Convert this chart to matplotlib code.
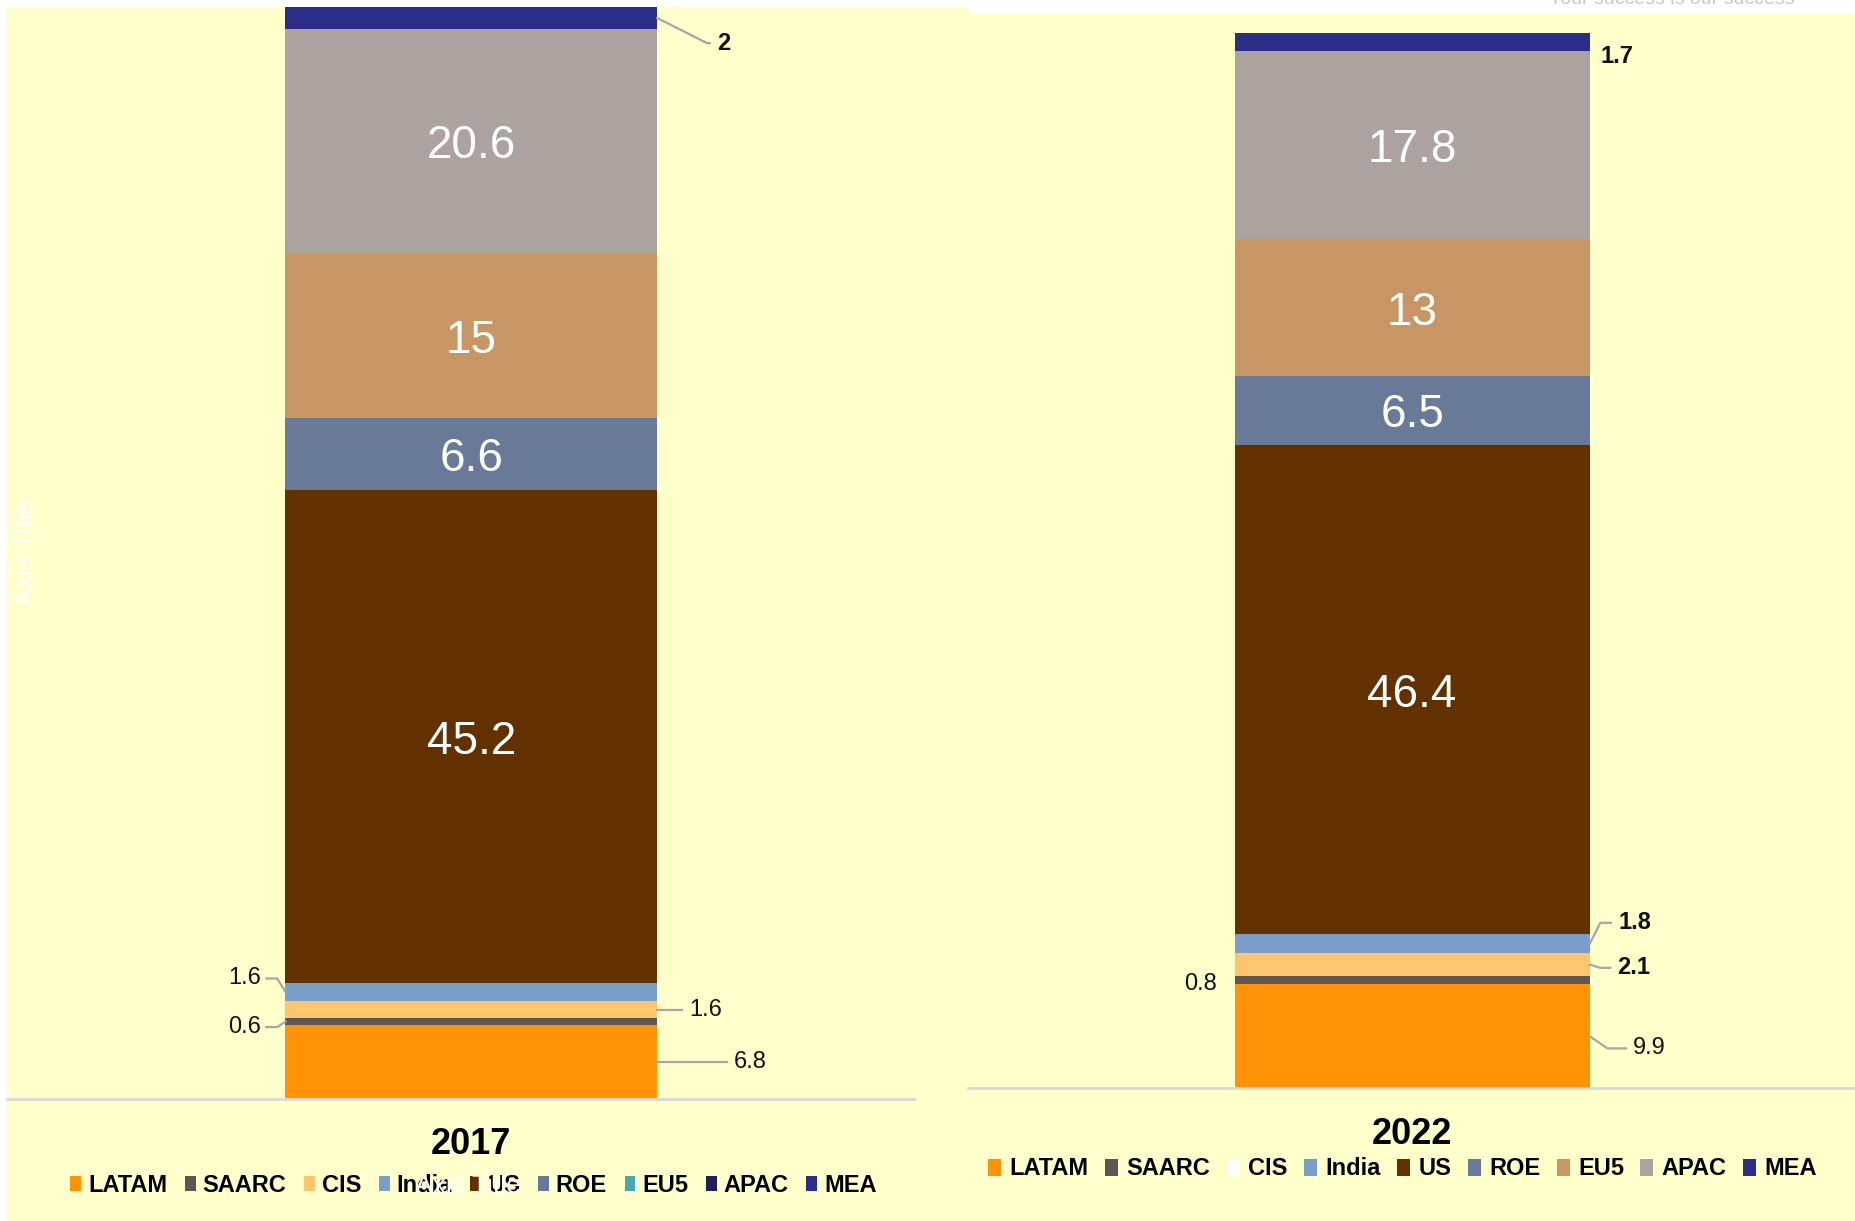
import matplotlib.pyplot as plt
from matplotlib.patches import Patch, Rectangle

plt.rcParams['font.family'] = ['Liberation Sans', 'DejaVu Sans']

# market share by region, %
regions = ['LATAM', 'SAARC', 'CIS', 'India', 'US', 'ROE', 'EU5', 'APAC', 'MEA']
share_2017 = [6.8, 0.6, 1.6, 1.6, 45.2, 6.6, 15, 20.6, 2]
share_2022 = [9.9, 0.8, 2.1, 1.8, 46.4, 6.5, 13, 17.8, 1.7]

bar_colors = ['#FF9305', '#5F5555', '#FDC66E', '#7A9EC8', '#633000',
              '#687A98', '#C89664', '#ACA3A0', '#2B2D88']
legend_colors_2017 = ['#FF9305', '#5F5555', '#FDC66E', '#7A9EC8', '#633000',
                      '#687A98', '#47AAAF', '#1E1E5A', '#2B2D88']
legend_colors_2022 = ['#FF9305', '#5F5555', '#FFFFFF', '#7A9EC8', '#633000',
                      '#687A98', '#C89664', '#ACA3A0', '#2B2D88']

BG = '#FFFFCC'
LEADER = '#A6A6A6'
W, H = 1568, 1032


def rect(x0, y0, x1, y1):
    return [x0 / W, 1 - y1 / H, (x1 - x0) / W, (y1 - y0) / H]


fig = plt.figure(figsize=(18.56, 12.21), dpi=100, facecolor='white')
fig.patches.append(Rectangle((6 / W, 0), 812 / W, 1 - 6 / H, transform=fig.transFigure,
                             color=BG, zorder=-5))
fig.patches.append(Rectangle((790 / W, 0), 778 / W, 1 - 12 / H, transform=fig.transFigure,
                             color=BG, zorder=-5))
fig.text(1309 / W, 1.0, 'Your success is our success', color='#c8c8c8',
         fontsize=14, va='center', ha='left')


def stacked(ax, values, xc, width, outside):
    ax.set_facecolor('none')
    bottom = 0
    centers = []
    for v, c in zip(values, bar_colors):
        ax.bar(xc, v, width, bottom=bottom, color=c, linewidth=0)
        centers.append(bottom + v / 2)
        bottom += v
    ax.set_xlim(0, 1)
    ax.set_ylim(0, 100)
    ax.set_xticks([])
    ax.set_yticks([])
    for s in ['top', 'left', 'right']:
        ax.spines[s].set_visible(False)
    ax.spines['bottom'].set_color('#D9D9D9')
    ax.spines['bottom'].set_linewidth(2)

    # values without an outside callout sit inside their segment
    called_out = {o[0] for o in outside}
    for i, (v, yc) in enumerate(zip(values, centers)):
        if i not in called_out:
            ax.text(xc, yc, f'{v:g}', color='white', fontsize=33,
                    ha='center', va='center_baseline')

    left_edge, right_edge = xc - width / 2, xc + width / 2
    for idx, tx, ty, elbow, ha, bold, leader in outside:
        v = values[idx]
        weight = 'bold' if bold else 'normal'
        ax.text(tx, ty, f'{v:g}', fontsize=17, ha=ha, va='center',
                fontweight=weight, color='#111111', clip_on=False)
        if not leader:
            continue
        edge = right_edge if ha == 'left' else left_edge
        end = tx - 0.008 if ha == 'left' else tx + 0.006
        xs, ys = [edge], [centers[idx]]
        if elbow is not None:
            xs.append(elbow)
            ys.append(ty)
        xs.append(end)
        ys.append(ty)
        ax.plot(xs, ys, color=LEADER, lw=1.6, clip_on=False)


ax1 = fig.add_axes(rect(6, 6, 772, 929))
stacked(ax1, share_2017, 0.512, 0.41, [
    (8, 0.783, 96.7, 0.772, 'left', True, True),
    (3, 0.280, 11.05, 0.298, 'right', False, True),
    (1, 0.280, 6.6, 0.298, 'right', False, True),
    (2, 0.752, 8.2, None, 'left', False, True),
    (0, 0.8016, 3.4, None, 'left', False, True),
])

ax2 = fig.add_axes(rect(818, 28, 1568, 920))
stacked(ax2, share_2022, 0.5, 0.4, [
    (8, 0.712, 97.8, None, 'left', True, False),
    (3, 0.732, 15.7, 0.712, 'left', True, True),
    (2, 0.731, 11.43, 0.712, 'left', True, True),
    (1, 0.28, 9.87, None, 'right', False, False),
    (0, 0.749, 3.8, 0.72, 'left', False, True),
])

fig.text(398 / W, 1 - 967 / H, '2017', fontsize=26, fontweight='bold',
         ha='center', va='center')
fig.text(1193 / W, 1 - 959 / H, '2022', fontsize=26, fontweight='bold',
         ha='center', va='center')

leg_font = {'weight': 'bold', 'size': 17}
h17 = [Patch(facecolor=c, edgecolor='none', label=r) for r, c in zip(regions, legend_colors_2017)]
fig.legend(handles=h17, loc='center', bbox_to_anchor=(400 / W, 1 - 1002 / H), ncol=9,
           frameon=False, prop=leg_font, handlelength=0.45, handleheight=0.6,
           handletextpad=0.3, columnspacing=0.75, borderaxespad=0)
h22 = [Patch(facecolor=c, edgecolor='none', label=r) for r, c in zip(regions, legend_colors_2022)]
fig.legend(handles=h22, loc='center', bbox_to_anchor=(1185 / W, 1 - 988 / H), ncol=9,
           frameon=False, prop=leg_font, handlelength=0.55, handleheight=0.75,
           handletextpad=0.35, columnspacing=0.7, borderaxespad=0)

# axis titles left in white
fig.text(22 / W, 1 - 467 / H, 'Axis Title', color='white', fontsize=19,
         rotation=90, ha='center', va='center')
fig.text(395 / W, 1 - 1002 / H, 'Axis Title', color='white', fontsize=19,
         ha='center', va='center', zorder=10)

fig.savefig('out.png', dpi=100, facecolor=fig.get_facecolor())
